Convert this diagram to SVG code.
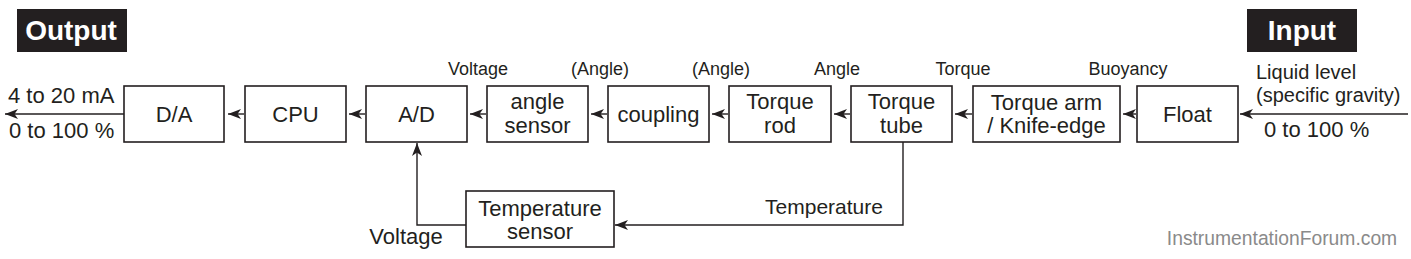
<svg xmlns="http://www.w3.org/2000/svg" width="1411" height="259" viewBox="0 0 1411 259">
<style>
text{font-family:"Liberation Sans",Arial,sans-serif;fill:#231f20}
.box{fill:#fff;stroke:#231f20;stroke-width:1.6}
.t{font-size:22px;text-anchor:middle}
.s{font-size:18px;text-anchor:middle}
.c{fill:none;stroke:#231f20;stroke-width:1.4}
.hdr{font-size:28px;font-weight:bold;fill:#fff;text-anchor:middle}
</style>
<defs>
<marker id="ah" markerUnits="userSpaceOnUse" markerWidth="15" markerHeight="12" refX="13" refY="6" orient="auto" viewBox="0 0 15 12">
<path d="M13,6 L0,1 L3.5,6 L0,11 Z" fill="#231f20"/>
</marker>
</defs>
<rect width="1411" height="259" fill="#fff"/>
<g id="output-label">
<rect x="17" y="9" width="110" height="43" fill="#231f20"/>
<text class="hdr" x="71" y="40">Output</text>
</g>
<g id="input-label">
<rect x="1247" y="9" width="110" height="43" fill="#231f20"/>
<text class="hdr" x="1302" y="40">Input</text>
</g>
<g id="connectors">
<line class="c" x1="124" y1="114" x2="5" y2="114" marker-end="url(#ah)"/>
<line class="c" x1="244" y1="114" x2="228" y2="114" marker-end="url(#ah)"/>
<line class="c" x1="365" y1="114" x2="349" y2="114" marker-end="url(#ah)"/>
<line class="c" x1="486" y1="114" x2="470" y2="114" marker-end="url(#ah)"/>
<line class="c" x1="607" y1="114" x2="591" y2="114" marker-end="url(#ah)"/>
<line class="c" x1="728" y1="114" x2="712" y2="114" marker-end="url(#ah)"/>
<line class="c" x1="850" y1="114" x2="834" y2="114" marker-end="url(#ah)"/>
<line class="c" x1="972" y1="114" x2="955" y2="114" marker-end="url(#ah)"/>
<line class="c" x1="1136" y1="114" x2="1123" y2="114" marker-end="url(#ah)"/>
<line class="c" x1="1408" y1="114" x2="1240" y2="114" marker-end="url(#ah)"/>
<path class="c" d="M903,142 V225 H615" marker-end="url(#ah)"/>
<path class="c" d="M466,225 H417 V143" marker-end="url(#ah)"/>
</g>
<g id="da"><rect class="box" x="124" y="86" width="100" height="56"/><text class="t" x="174" y="122">D/A</text></g>
<g id="cpu"><rect class="box" x="245" y="86" width="101" height="56"/><text class="t" x="295.5" y="122">CPU</text></g>
<g id="ad"><rect class="box" x="366" y="86" width="101" height="56"/><text class="t" x="416.5" y="122">A/D</text></g>
<g id="angle-sensor"><rect class="box" x="487" y="86" width="101" height="56"/><text class="t" x="537.5" y="109">angle</text><text class="t" x="537.5" y="133">sensor</text></g>
<g id="coupling"><rect class="box" x="608" y="86" width="101" height="56"/><text class="t" x="658.5" y="122">coupling</text></g>
<g id="torque-rod"><rect class="box" x="729" y="86" width="102" height="56"/><text class="t" x="780" y="109">Torque</text><text class="t" x="780" y="133">rod</text></g>
<g id="torque-tube"><rect class="box" x="851" y="86" width="101" height="56"/><text class="t" x="901.5" y="109">Torque</text><text class="t" x="901.5" y="133">tube</text></g>
<g id="torque-arm"><rect class="box" x="973" y="86" width="147" height="56"/><text class="t" x="1046.5" y="110">Torque arm</text><text class="t" x="1046.5" y="133">/ Knife-edge</text></g>
<g id="float"><rect class="box" x="1137" y="86" width="101" height="56"/><text class="t" x="1187.5" y="122">Float</text></g>
<g id="temp-sensor"><rect class="box" x="466" y="191" width="148" height="56"/><text class="t" x="540" y="216">Temperature</text><text class="t" x="540" y="239">sensor</text></g>
<g id="labels">
<text class="s" x="478" y="75">Voltage</text>
<text class="s" x="600" y="75">(Angle)</text>
<text class="s" x="721" y="75">(Angle)</text>
<text class="s" x="837" y="75">Angle</text>
<text class="s" x="963" y="75">Torque</text>
<text class="s" x="1128" y="75">Buoyancy</text>
<text x="1256" y="79" style="font-size:20px">Liquid level</text>
<text x="1256" y="102" style="font-size:20px">(specific gravity)</text>
<text x="1264" y="137" style="font-size:22px">0 to 100 %</text>
<text x="8" y="103" style="font-size:22px">4 to 20 mA</text>
<text x="9" y="138" style="font-size:22px">0 to 100 %</text>
<text x="824" y="214" style="font-size:21px;text-anchor:middle">Temperature</text>
<text x="406" y="244" style="font-size:22px;text-anchor:middle">Voltage</text>
<text x="1282" y="245" style="font-size:19.3px;fill:#8a8a8a;text-anchor:middle">InstrumentationForum.com</text>
</g>
</svg>
